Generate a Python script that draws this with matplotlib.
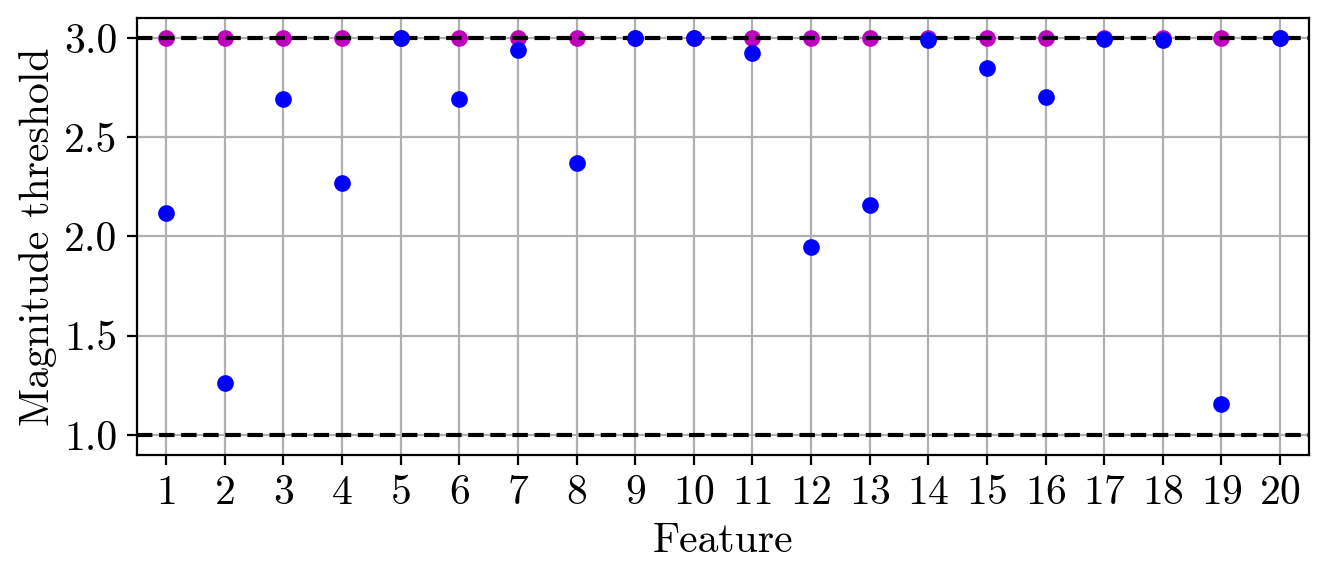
import numpy as np
import matplotlib
matplotlib.use('Agg')
import matplotlib.pyplot as plt

# thresholds per feature
features = np.arange(1, 21)
thresh_magenta = [3.0] * 20
thresh_blue = [2.12, 1.26, 2.69, 2.27, 3.0, 2.69, 2.94, 2.37, 3.0, 3.0,
               2.925, 1.945, 2.16, 2.99, 2.85, 2.70, 2.995, 2.99, 1.155, 3.0]
bounds = [1.0, 3.0]

plt.rcParams['font.family'] = 'serif'
plt.rcParams['font.serif'] = ['cmr10']
plt.rcParams['mathtext.fontset'] = 'cm'
plt.rcParams['axes.formatter.use_mathtext'] = True
plt.rcParams['font.size'] = 15

fig = plt.figure(figsize=(6.64, 2.89), dpi=200)
ax = fig.add_axes([0.103, 0.213, 0.883, 0.756])

ax.plot(features, thresh_magenta, 'o', color='m', markersize=5, zorder=3)
for b in bounds:
    ax.axhline(b, color='k', linestyle='--', linewidth=1.5, zorder=4)
ax.plot(features, thresh_blue, 'o', color='b', markersize=5, zorder=5)

ax.set_xlim(0.5, 20.5)
ax.set_ylim(0.9, 3.1)
ax.set_xticks(features)
ax.set_yticks([1.0, 1.5, 2.0, 2.5, 3.0])
ax.set_yticklabels(['1.0', '1.5', '2.0', '2.5', '3.0'])
ax.grid(True, color='#b0b0b0', linewidth=0.8)
ax.set_axisbelow(True)
ax.set_xlabel('Feature', labelpad=4)
ax.set_ylabel('Magnitude threshold', labelpad=2.5)

plt.savefig('out.png', dpi=200)
